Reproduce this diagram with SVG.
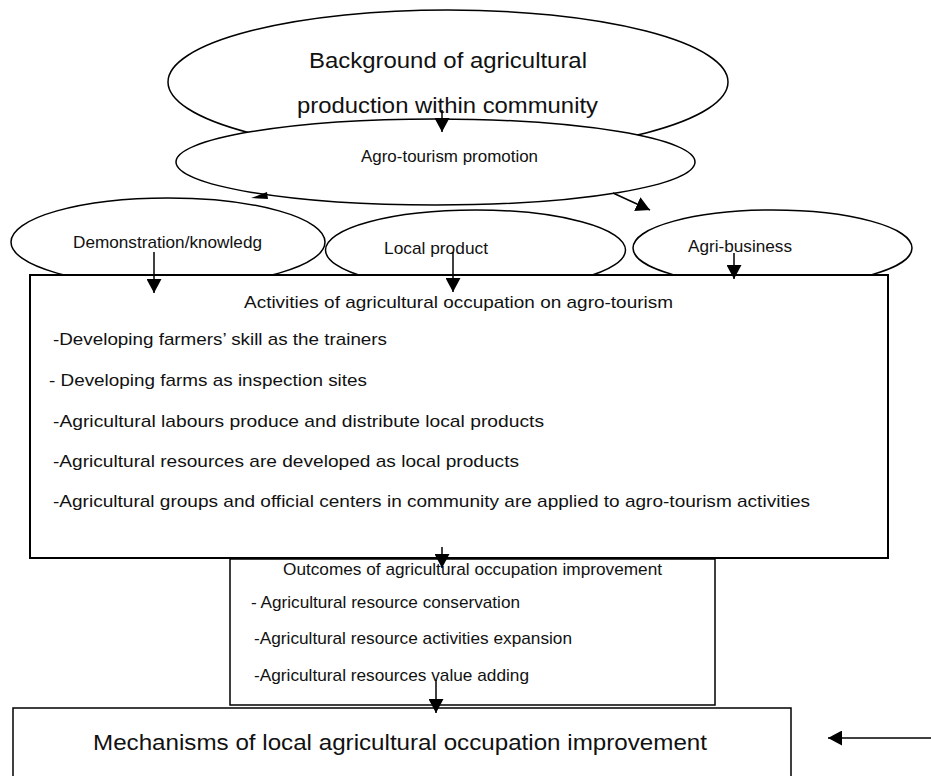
<svg xmlns="http://www.w3.org/2000/svg" width="931" height="776" viewBox="0 0 931 776">
<style>
  .shape { fill: #ffffff; stroke: #000000; stroke-width: 1.5; }
  .box { fill: #ffffff; stroke: #000000; stroke-width: 2; }
  .t { font-family: "Liberation Sans", Arial, sans-serif; fill: #111111; }
  .big { font-size: 22px; }
  .mid { font-size: 17px; }
  .conn { stroke: #000000; stroke-width: 1.5; fill: none; }
</style>
<defs>
  <marker id="ah" markerUnits="userSpaceOnUse" markerWidth="14" markerHeight="15" refX="14" refY="7.5" orient="auto">
    <path d="M0,0 L14,7.5 L0,15 z" fill="#000000"/>
  </marker>
</defs>
<rect x="0" y="0" width="931" height="776" fill="#ffffff"/>

<g id="background">
  <ellipse class="shape" cx="448" cy="82" rx="280" ry="72"/>
  <text class="t big" x="309" y="68" textLength="278" lengthAdjust="spacingAndGlyphs">Background of agricultural</text>
  <text class="t big" x="297" y="113" textLength="301" lengthAdjust="spacingAndGlyphs">production within community</text>
</g>

<g id="agro-tourism">
  <ellipse class="shape" cx="435.5" cy="162" rx="259.5" ry="43"/>
  <text class="t mid" x="361" y="162" textLength="177" lengthAdjust="spacingAndGlyphs" fill="#222">Agro-tourism promotion</text>
</g>

<g id="demonstration">
  <ellipse class="shape" cx="168" cy="242" rx="157" ry="44"/>
  <text class="t mid" x="73" y="248" textLength="189" lengthAdjust="spacingAndGlyphs">Demonstration/knowledg</text>
</g>

<g id="local-product">
  <ellipse class="shape" cx="475.5" cy="250" rx="150" ry="40"/>
  <text class="t mid" x="384" y="254" textLength="104" lengthAdjust="spacingAndGlyphs">Local product</text>
</g>

<g id="agri-business">
  <ellipse class="shape" cx="772.5" cy="248" rx="139.5" ry="38"/>
  <text class="t mid" x="688" y="252" textLength="104" lengthAdjust="spacingAndGlyphs">Agri-business</text>
</g>

<g id="activities">
  <rect class="box" x="30" y="275" width="858" height="283"/>
  <text class="t mid" x="244" y="308" textLength="429" lengthAdjust="spacingAndGlyphs">Activities of agricultural occupation on agro-tourism</text>
  <text class="t mid" x="53" y="345" textLength="334" lengthAdjust="spacingAndGlyphs">-Developing farmers’ skill as the trainers</text>
  <text class="t mid" x="49" y="386" textLength="318" lengthAdjust="spacingAndGlyphs">- Developing farms as inspection sites</text>
  <text class="t mid" x="53" y="427" textLength="491" lengthAdjust="spacingAndGlyphs">-Agricultural labours produce and distribute local products</text>
  <text class="t mid" x="53" y="467" textLength="466" lengthAdjust="spacingAndGlyphs">-Agricultural resources are developed as local products</text>
  <text class="t mid" x="53" y="507" textLength="757" lengthAdjust="spacingAndGlyphs">-Agricultural groups and official centers in community are applied to agro-tourism activities</text>
</g>

<g id="outcomes">
  <rect class="shape" x="230" y="559" width="485" height="146"/>
  <text class="t mid" x="283" y="575" textLength="379" lengthAdjust="spacingAndGlyphs" fill="#222">Outcomes of agricultural occupation improvement</text>
  <text class="t mid" x="251" y="608" textLength="269" lengthAdjust="spacingAndGlyphs" fill="#222">- Agricultural resource conservation</text>
  <text class="t mid" x="254" y="644" textLength="318" lengthAdjust="spacingAndGlyphs" fill="#222">-Agricultural resource activities expansion</text>
  <text class="t mid" x="254" y="681" textLength="275" lengthAdjust="spacingAndGlyphs" fill="#222">-Agricultural resources value adding</text>
</g>

<g id="mechanisms">
  <rect class="shape" x="13" y="708" width="778" height="80"/>
  <text class="t big" x="93" y="750" textLength="614" lengthAdjust="spacingAndGlyphs" fill="#222">Mechanisms of local agricultural occupation improvement</text>
</g>

<g id="connectors">
  <line class="conn" x1="442" y1="110" x2="442" y2="132" marker-end="url(#ah)"/>
  <polygon points="251,198 267,192 268,199" fill="#000000"/>
  <line class="conn" x1="613" y1="193" x2="650" y2="210" marker-end="url(#ah)"/>
  <line class="conn" x1="154" y1="252" x2="154" y2="293" marker-end="url(#ah)"/>
  <line class="conn" x1="453" y1="252" x2="453" y2="292" marker-end="url(#ah)"/>
  <line class="conn" x1="734" y1="253" x2="734" y2="279" marker-end="url(#ah)"/>
  <line class="conn" x1="442" y1="547" x2="442" y2="568" marker-end="url(#ah)"/>
  <line class="conn" x1="436" y1="680" x2="436" y2="713" marker-end="url(#ah)"/>
  <line class="conn" x1="931" y1="738" x2="828" y2="738" marker-end="url(#ah)"/>
</g>
</svg>
